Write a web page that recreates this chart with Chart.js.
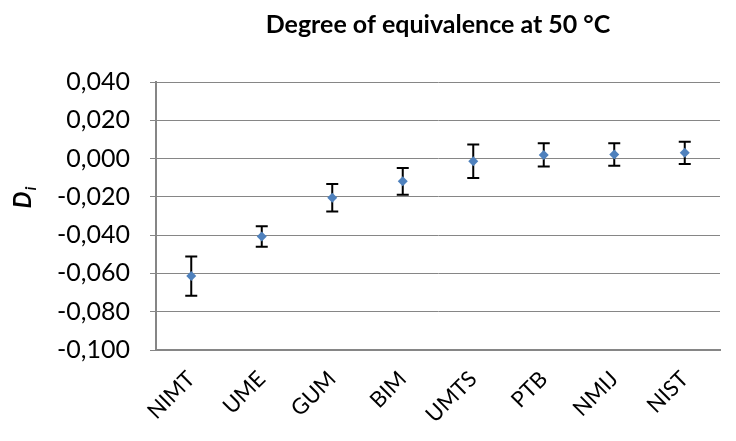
<!DOCTYPE html>
<html>
<head>
<meta charset="utf-8">
<script src="https://cdn.jsdelivr.net/npm/chart.js@4"></script>
<style>
  html, body { margin: 0; padding: 0; background: #fff; }
  #wrap { width: 736px; height: 441px; }
</style>
</head>
<body>
<div id="wrap"><canvas id="doeChart"></canvas></div>
<script>
var labs = ['NIMT', 'UME', 'GUM', 'BIM', 'UMTS', 'PTB', 'NMIJ', 'NIST'];
var di = [-0.0614, -0.0407, -0.0205, -0.0119, -0.0014, 0.0019, 0.0021, 0.0030];
var ui = [0.0102, 0.0053, 0.0072, 0.0070, 0.0087, 0.0061, 0.0059, 0.0058];
var yTicks = [0.04, 0.02, 0, -0.02, -0.04, -0.06, -0.08, -0.1];

var gridColor = '#868686';

// error bars drawn from the scales, under the points
var errorBars = {
  id: 'errorBars',
  beforeDatasetsDraw: function (chart) {
    var ctx = chart.ctx;
    var xs = chart.scales.x, ys = chart.scales.y;
    ctx.save();
    ctx.strokeStyle = '#000';
    ctx.lineWidth = 2;
    for (var i = 0; i < di.length; i++) {
      var x = xs.getPixelForValue(i);
      var yt = ys.getPixelForValue(di[i] + ui[i]);
      var yb = ys.getPixelForValue(di[i] - ui[i]);
      ctx.beginPath();
      ctx.moveTo(x, yt); ctx.lineTo(x, yb);
      ctx.moveTo(x - 6, yt); ctx.lineTo(x + 6, yt);
      ctx.moveTo(x - 6, yb); ctx.lineTo(x + 6, yb);
      ctx.stroke();
    }
    ctx.restore();
  }
};

// y axis title D with subscript i
var yTitle = {
  id: 'yTitle',
  afterDraw: function (chart) {
    var ctx = chart.ctx;
    ctx.save();
    ctx.translate(31, 198);
    ctx.rotate(-Math.PI / 2);
    ctx.fillStyle = '#000';
    ctx.textBaseline = 'alphabetic';
    ctx.font = 'italic bold 24px Lato';
    var w = ctx.measureText('D').width;
    ctx.fillText('D', -w / 2 - 2, 0);
    ctx.font = 'italic bold 16px Lato';
    ctx.fillText('i', w / 2 - 1, 5);
    ctx.restore();
  }
};

document.addEventListener('DOMContentLoaded', function () {
  var ctx = document.getElementById('doeChart').getContext('2d');
  new Chart(ctx, {
    type: 'line',
    data: {
      labels: labs,
      datasets: [{
        data: di,
        showLine: false,
        pointStyle: 'rectRot',
        pointRadius: 5,
        pointHoverRadius: 5,
        backgroundColor: '#4f81bd',
        borderColor: '#4f81bd',
        borderWidth: 0
      }]
    },
    options: {
      responsive: true,
      maintainAspectRatio: false,
      animation: false,
      layout: { padding: { left: 0, right: 16, top: 0, bottom: 0 } },
      plugins: {
        legend: { display: false },
        tooltip: { enabled: false },
        title: {
          display: true,
          fullSize: false,
          text: 'Degree of equivalence at 50 °C',
          color: '#000',
          font: { family: 'Lato', size: 25, weight: 'bold' },
          padding: { top: 10, bottom: 42 }
        }
      },
      scales: {
        x: {
          offset: true,
          grid: { display: false, drawTicks: false },
          border: { color: gridColor, width: 2 },
          ticks: {
            color: '#000',
            font: { family: 'Lato', size: 22 },
            minRotation: 45,
            maxRotation: 45,
            padding: 16
          },
          afterFit: function (s) { s.height = 91; }
        },
        y: {
          min: -0.1,
          max: 0.04,
          afterBuildTicks: function (s) {
            s.ticks = yTicks.map(function (v) { return { value: v }; });
          },
          grid: { color: gridColor, lineWidth: 1, tickLength: 6 },
          border: { color: gridColor, width: 2 },
          ticks: {
            color: '#000',
            font: { family: 'Lato', size: 25 },
            padding: 20,
            callback: function (v) {
              if (Math.abs(v) < 1e-9) v = 0;
              return v.toFixed(3).replace('.', ',');
            }
          },
          afterFit: function (s) { s.width = 156; }
        }
      }
    },
    plugins: [errorBars, yTitle]
  });
});
</script>
</body>
</html>
